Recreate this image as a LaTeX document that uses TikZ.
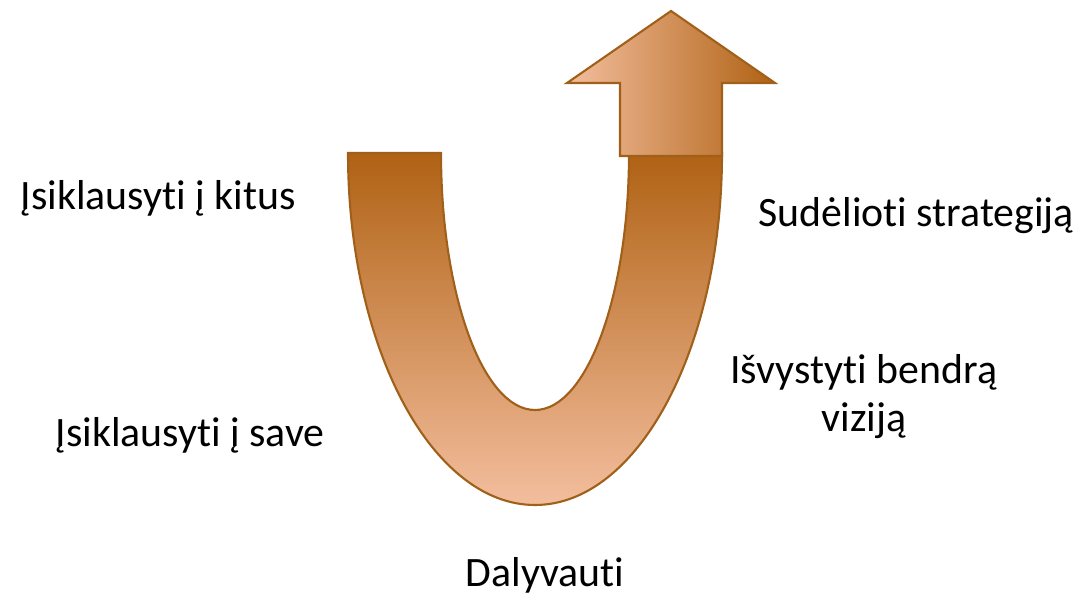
\documentclass[tikz,border=0pt]{standalone}
\usepackage{fontspec}
\setmainfont{Carlito}[Ligatures=NoCommon]
\definecolor{udark}{RGB}{176,98,20}
\definecolor{ulight}{RGB}{243,190,158}
\definecolor{uline}{RGB}{160,96,26}
\begin{document}
\begin{tikzpicture}[
    ushape/.style={draw=uline,line width=0.6pt,top color=udark,bottom color=ulight},
    uparrow/.style={draw=uline,line width=0.6pt,left color=ulight,right color=udark},
    lbl/.style={inner sep=0pt,font=\fontsize{11.9}{13.7}\selectfont}
  ]
   \useasboundingbox (0,0) rectangle (10.89,5.98);
   % the U
   \draw[ushape] (3.48,4.45)
      arc[start angle=180,end angle=360,x radius=1.87cm,y radius=3.52cm]
      -- (6.29,4.45)
      arc[start angle=0,end angle=-180,x radius=0.94cm,y radius=2.57cm]
      -- cycle;
   % the head
   \draw[uparrow] (6.20,4.42) -- (6.20,5.15) -- (5.67,5.15) -- (6.71,5.87)
      -- (7.75,5.15) -- (7.22,5.15) -- (7.22,4.42) -- cycle;
   \foreach \n/\x/\y/\a/\t in
     {kitus/0.20/3.88/base west/{Įsiklausyti į kitus},
      save/0.55/1.51/base west/{Įsiklausyti į save},
      strat/7.58/3.71/base west/{Sudėlioti strategiją},
      dal/5.45/0.11/base/{Dalyvauti}
     }
     \node[lbl,anchor=\a] (\n) at (\x,\y) {\t};
   \node[lbl,anchor=base,align=center] (viz) at (8.64,1.66) {Išvystyti bendrą\\viziją};
\end{tikzpicture}
\end{document}
